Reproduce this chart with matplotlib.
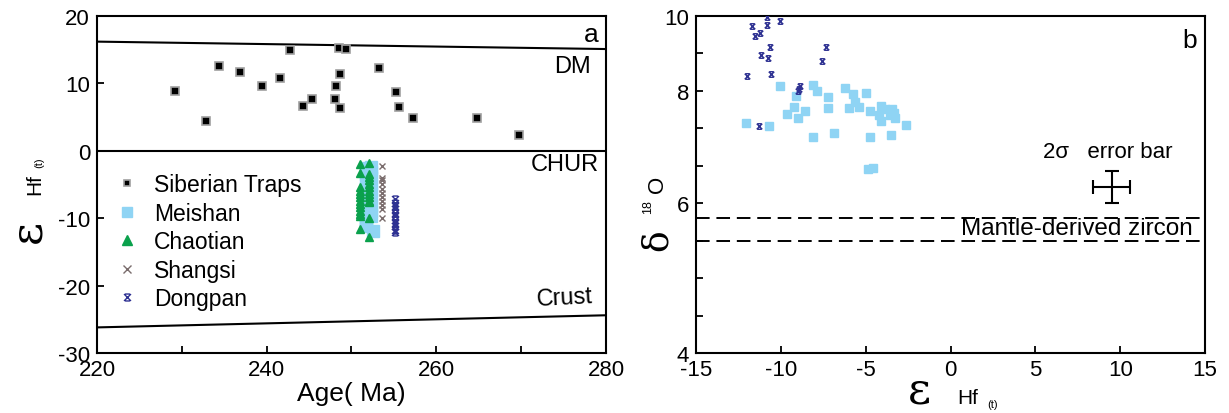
import matplotlib.pyplot as plt
import numpy as np
from matplotlib.path import Path
from matplotlib.lines import Line2D

plt.rcParams['font.family'] = ['Liberation Sans', 'DejaVu Sans']
plt.rcParams['axes.unicode_minus'] = False

# ---- panel a : Hf(t) vs age ----
sib_age = [229.2, 232.9, 234.4, 236.8, 239.4, 241.6, 242.7, 244.3, 245.4, 248.0, 248.2,
           248.7, 248.7, 248.5, 249.3, 253.2, 255.2, 255.6, 257.3, 264.8, 269.7]
sib_hf = [8.9, 4.4, 12.6, 11.7, 9.6, 10.8, 14.9, 6.7, 7.7, 7.7, 9.6,
          11.4, 6.4, 15.3, 15.1, 12.3, 8.8, 6.5, 4.8, 4.8, 2.3]

meishan_age = [251.7] * 11 + [252.3] * 9 + [252.5]
meishan_hf = [-2.6, -3.5, -4.5, -5.5, -6.5, -7.5, -8.5, -9.5, -10.2, -10.7, -11.2,
              -2.4, -3.2, -4.0, -5.0, -6.0, -7.0, -8.0, -9.0, -9.6, -11.9]

chaotian_age = [251.0] * 13 + [252.1] * 13
chaotian_hf = [-2.0, -3.3, -5.4, -5.9, -6.4, -6.9, -7.4, -7.9, -8.4, -8.9, -9.4, -9.7, -11.6,
               -1.8, -3.4, -3.9, -4.4, -4.9, -5.4, -5.9, -6.4, -6.9, -7.4, -7.6, -10.0, -12.8]

shangsi_age = [253.6] * 11
shangsi_hf = [-2.2, -4.1, -4.4, -4.9, -5.6, -6.2, -6.9, -7.4, -8.1, -8.6, -9.9]

dongpan_age = [255.1] * 11
dongpan_hf = [-7.2, -7.7, -8.2, -8.7, -9.2, -9.7, -10.2, -10.7, -11.2, -11.7, -12.0]

dm_line = ([220, 280], [16.2, 15.1])
chur_line = ([220, 280], [0, 0])
crust_line = ([220, 280], [-26.2, -24.4])

# ---- panel b : d18O vs Hf(t) ----
dongpan_b_hf = [-10.82, -11.68, -10.82, -10.05, -11.23, -11.5, -10.62, -7.36, -11.15,
                -10.74, -7.58, -11.98, -10.56, -8.85, -8.95, -8.99, -11.27]
dongpan_b_o = [9.97, 9.73, 9.76, 9.86, 9.55, 9.46, 9.16, 9.16, 8.96,
               8.89, 8.79, 8.39, 8.46, 8.12, 8.05, 8.00, 7.37]

meishan_b_hf = [-10.05, -9.11, -8.12, -7.85, -7.24, -6.24, -5.73, -4.98, -5.61, -5.40,
                -5.97, -7.24, -9.21, -8.58, -9.64, -9.01, -12.05, -10.7, -8.09, -6.87,
                -4.75, -4.75, -4.1, -3.86, -4.2, -4.1, -3.45, -3.31, -3.57, -3.26,
                -3.51, -2.63, -4.85, -4.59]
meishan_b_o = [8.12, 7.91, 8.16, 7.99, 7.90, 8.09, 7.95, 7.97, 7.81, 7.71,
               7.69, 7.70, 7.71, 7.65, 7.58, 7.52, 7.42, 7.38, 7.18, 7.25,
               7.65, 7.18, 7.74, 7.67, 7.57, 7.46, 7.67, 7.61, 7.57, 7.51,
               7.21, 7.40, 6.61, 6.62]

mantle_zircon = [5.8, 5.5]
err_x, err_y = 9.5, 6.29
err_dx, err_dy = 1.1, 0.28

c_meishan = '#8fd4f4'
c_chaotian = '#0aa14c'
c_shangsi = '#7a6c6c'
c_dongpan = '#2e3192'

# x with caps, like the original "Dongpan" symbol
dp_marker = Path([(-1, -1), (1, 1), (-1, 1), (1, -1), (-0.7, 1), (0.7, 1), (-0.7, -1), (0.7, -1)],
                 [Path.MOVETO, Path.LINETO] * 4)

fig = plt.figure(figsize=(12.29, 4.14), dpi=100)
ax1 = fig.add_axes([0.0789, 0.1449, 0.4142, 0.8140])
ax2 = fig.add_axes([0.5663, 0.1449, 0.4142, 0.8140])

for ax in (ax1, ax2):
    for s in ax.spines.values():
        s.set_linewidth(1.5)
    ax.tick_params(which='both', direction='in', length=5, width=1.3, labelsize=16,
                   top=False, right=False)
    ax.tick_params(axis='x', pad=4)
    ax.tick_params(axis='y', pad=5)

# panel a
ax1.plot(*dm_line, color='black', lw=1.5)
ax1.plot(*chur_line, color='black', lw=1.5)
ax1.plot(*crust_line, color='black', lw=1.5)

ax1.plot(meishan_age, meishan_hf, 's', ms=8, color=c_meishan, mec=c_meishan, zorder=3)
ax1.plot(chaotian_age, chaotian_hf, '^', ms=6, color=c_chaotian, mec=c_chaotian, zorder=4)
ax1.plot(shangsi_age, shangsi_hf, 'x', ms=4.5, mew=1.0, color=c_shangsi, zorder=4)
ax1.plot(dongpan_age, dongpan_hf, marker=dp_marker, ls='none', ms=5, mew=1.0, color=c_dongpan, zorder=4)
ax1.plot(sib_age, sib_hf, 's', ms=5.5, mfc='black', mec='#a0a0a0', mew=1.2, zorder=5)

ax1.set_xlim(220, 280)
ax1.set_ylim(-30, 20)
ax1.set_xticks([220, 240, 260, 280])
ax1.set_xticks([230, 250, 270], minor=True)
ax1.set_yticks([-30, -20, -10, 0, 10, 20])
ax1.set_xlabel('Age( Ma)', fontsize=19, labelpad=1)

ax1.text(0.985, 0.947, 'a', transform=ax1.transAxes, fontsize=19, ha='right', va='center')
ax1.text(0.97, 0.852, 'DM', transform=ax1.transAxes, fontsize=17, ha='right', va='center')
ax1.text(0.985, 0.561, 'CHUR', transform=ax1.transAxes, fontsize=17, ha='right', va='center')
ax1.text(0.975, 0.166, 'Crust', transform=ax1.transAxes, fontsize=17, ha='right', va='center',
         rotation=3)

handles = [
    Line2D([], [], ls='none', marker='s', ms=5, mfc='black', mec='#a0a0a0', mew=1.2),
    Line2D([], [], ls='none', marker='s', ms=7, color=c_meishan),
    Line2D([], [], ls='none', marker='^', ms=7, color=c_chaotian),
    Line2D([], [], ls='none', marker='x', ms=6, mew=1.0, color=c_shangsi),
    Line2D([], [], ls='none', marker=dp_marker, ms=5, mew=1.0, color=c_dongpan),
]
labels = ['Siberian Traps', 'Meishan', 'Chaotian', 'Shangsi', 'Dongpan']
ax1.legend(handles, labels, loc='upper left', bbox_to_anchor=(0.022, 0.56), frameon=False,
           fontsize=16.5, handlelength=0.8, handletextpad=0.8, labelspacing=0.235,
           borderaxespad=0)

# left y label pieces
fig.text(0.023, 0.44, 'ε', fontsize=32, family='DejaVu Serif', rotation=90, ha='center', va='center')
fig.text(0.028, 0.555, 'Hf', fontsize=15, rotation=90, ha='center', va='center')
fig.text(0.032, 0.607, '(t)', fontsize=8, rotation=90, ha='center', va='center')

# panel b
def fwd(y):
    y = np.asarray(y, dtype=float)
    return np.where(y < 6, (y - 4) * 2, np.where(y < 8, 4 + (y - 6) * 1.5, 7 + (y - 8)))

def inv(p):
    p = np.asarray(p, dtype=float)
    return np.where(p < 4, 4 + p / 2, np.where(p < 7, 6 + (p - 4) / 1.5, 8 + (p - 7)))

ax2.set_yscale('function', functions=(fwd, inv))
ax2.set_xlim(-15, 15)
ax2.set_ylim(4, 10)
ax2.set_xticks([-15, -10, -5, 0, 5, 10, 15])
ax2.set_yticks([4, 6, 8, 10])
ax2.set_yticks(list(inv([1, 2, 3, 5, 6, 8])), minor=True)
ax2.yaxis.set_minor_formatter(plt.NullFormatter())
ax2.set_yticklabels(['4', '6', '8', '10'])

for yv in mantle_zircon:
    ax2.axhline(yv, color='black', lw=1.4, ls=(0, (7, 3.5)))

ax2.plot(meishan_b_hf, meishan_b_o, 's', ms=5.5, color=c_meishan, mec=c_meishan, zorder=3)
ax2.plot(dongpan_b_hf, dongpan_b_o, marker=dp_marker, ls='none', ms=4, mew=1.0, color=c_dongpan, zorder=4)

ax2.errorbar([err_x], [err_y], xerr=[err_dx], yerr=[err_dy], fmt='none', ecolor='black',
             elinewidth=1.5, capsize=5, capthick=1.5)
ax2.text(0.682, 0.599, '2σ   error bar', transform=ax2.transAxes, fontsize=16, ha='left', va='center')
ax2.text(0.975, 0.37, 'Mantle-derived zircon', transform=ax2.transAxes, fontsize=17.5,
         ha='right', va='center')
ax2.text(0.985, 0.93, 'b', transform=ax2.transAxes, fontsize=19, ha='right', va='center')

# right x label pieces
fig.text(0.748, 0.056, 'ε', fontsize=32, family='DejaVu Serif', ha='center', va='center')
fig.text(0.787, 0.037, 'Hf', fontsize=15, ha='center', va='center')
fig.text(0.808, 0.022, '(t)', fontsize=8, ha='center', va='center')

# right y label pieces
fig.text(0.534, 0.42, 'δ', fontsize=26, family='DejaVu Serif', rotation=90, ha='center', va='center')
fig.text(0.527, 0.50, '18', fontsize=9, rotation=90, ha='center', va='center')
fig.text(0.535, 0.555, 'O', fontsize=16, rotation=90, ha='center', va='center')

fig.savefig('out.png', dpi=100)
